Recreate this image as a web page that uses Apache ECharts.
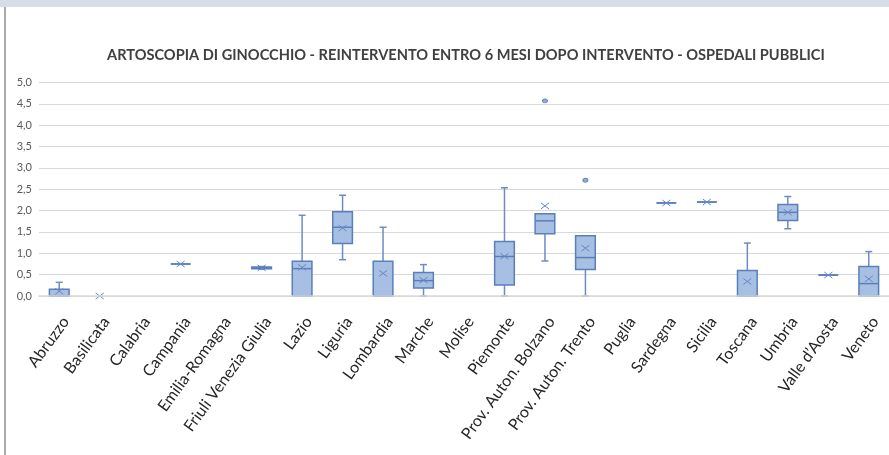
<!DOCTYPE html>
<html>
<head>
<meta charset="utf-8">
<script src="https://cdn.jsdelivr.net/npm/echarts@6/dist/echarts.min.js"></script>
<style>
  html, body { margin: 0; padding: 0; background: #ffffff; overflow: hidden; }
  #chart { width: 889px; height: 455px; }
</style>
</head>
<body>
<div id="chart"></div>
<script>
// Regions on the category axis
const categories = [
  'Abruzzo', 'Basilicata', 'Calabria', 'Campania', 'Emilia-Romagna',
  'Friuli Venezia Giulia', 'Lazio', 'Liguria', 'Lombardia', 'Marche',
  'Molise', 'Piemonte', 'Prov. Auton. Bolzano', 'Prov. Auton. Trento',
  'Puglia', 'Sardegna', 'Sicilia', 'Toscana', 'Umbria', 'Valle d\u2019Aosta', 'Veneto'
];

// Box-plot statistics per region (null = no data)
const whiskerLow  = [0,    null, null, 0.75, null, 0.63, 0,    0.85,  0,    0,     null, 0,     0.82,  0,    null, 2.18, 2.20, 0,    1.575, 0.49, 0];
const quartile1   = [0,    null, null, 0.75, null, 0.64, 0,    1.23,  0,    0.19,  null, 0.26,  1.455, 0.62, null, 2.18, 2.20, 0,    1.77,  0.49, 0];
const medians     = [0,    null, null, 0.75, null, 0.66, 0.64, 1.61,  0,    0.36,  null, 0.925, 1.76,  0.90, null, 2.18, 2.20, 0,    1.96,  0.49, 0.29];
const quartile3   = [0.16, null, null, 0.75, null, 0.68, 0.815,1.975, 0.815,0.55,  null, 1.275, 1.925, 1.41, null, 2.18, 2.20, 0.60, 2.14,  0.49, 0.69];
const whiskerHigh = [0.32, null, null, 0.75, null, 0.69, 1.89, 2.36,  1.61, 0.735, null, 2.535, 1.925, 1.41, null, 2.18, 2.20, 1.24, 2.33,  0.49, 1.04];
const means       = [0.11, 0,    null, 0.75, null, 0.66, 0.67, 1.59,  0.53, 0.37,  null, 0.93,  2.11,  1.12, null, 2.18, 2.20, 0.34, 1.96,  0.49, 0.40];

// Outlying values
const outlierRegions = ['Prov. Auton. Bolzano', 'Prov. Auton. Trento'];
const outlierValues  = [4.57, 2.71];

// Value axis
const yMin = 0, yMax = 5, yStep = 0.5;

const titleText = 'ARTOSCOPIA DI GINOCCHIO - REINTERVENTO ENTRO 6 MESI DOPO INTERVENTO - OSPEDALI PUBBLICI';

const BOX_FILL = '#a7bfe2';
const BOX_LINE = '#5a7fbb';
const WHISKER = '#6b8dc6';

const boxRows = [];
categories.forEach((c, i) => {
  if (quartile1[i] == null) return;
  boxRows.push([i, whiskerLow[i], quartile1[i], medians[i], quartile3[i], whiskerHigh[i]]);
});
const meanRows = [];
categories.forEach((c, i) => {
  if (means[i] == null) return;
  meanRows.push([i, means[i]]);
});
const outlierRows = outlierRegions.map((r, k) => [categories.indexOf(r), outlierValues[k]]);

function renderBox(params, api) {
  const i = api.value(0);
  const band = api.size([1, 0])[0];
  const half = band * 0.243;
  const cap = 3.5;
  const pMin = api.coord([i, api.value(1)]);
  const pQ1 = api.coord([i, api.value(2)]);
  const pMed = api.coord([i, api.value(3)]);
  const pQ3 = api.coord([i, api.value(4)]);
  const pMax = api.coord([i, api.value(5)]);
  const x = pQ1[0];
  const children = [];
  const wStyle = { stroke: WHISKER, lineWidth: 1.5 };
  if (api.value(5) > api.value(4)) {
    children.push({ type: 'line', shape: { x1: x, y1: pQ3[1], x2: x, y2: pMax[1] }, style: wStyle });
    children.push({ type: 'line', shape: { x1: x - cap, y1: pMax[1], x2: x + cap, y2: pMax[1] }, style: wStyle });
  }
  if (api.value(1) < api.value(2)) {
    children.push({ type: 'line', shape: { x1: x, y1: pQ1[1], x2: x, y2: pMin[1] }, style: wStyle });
    children.push({ type: 'line', shape: { x1: x - cap, y1: pMin[1], x2: x + cap, y2: pMin[1] }, style: wStyle });
  }
  children.push({
    type: 'rect',
    shape: { x: x - half, y: pQ3[1], width: half * 2, height: pQ1[1] - pQ3[1] },
    style: { fill: BOX_FILL, stroke: BOX_LINE, lineWidth: 1.5 }
  });
  children.push({
    type: 'line',
    shape: { x1: x - half, y1: pMed[1], x2: x + half, y2: pMed[1] },
    style: { stroke: BOX_LINE, lineWidth: 1.5 }
  });
  return { type: 'group', children: children };
}

function renderMean(params, api) {
  const p = api.coord([api.value(0), api.value(1)]);
  const w = 4, h = 3;
  const st = { stroke: '#6688c2', lineWidth: 1 };
  return {
    type: 'group',
    children: [
      { type: 'line', shape: { x1: p[0] - w, y1: p[1] - h, x2: p[0] + w, y2: p[1] + h }, style: st },
      { type: 'line', shape: { x1: p[0] - w, y1: p[1] + h, x2: p[0] + w, y2: p[1] - h }, style: st }
    ]
  };
}

const chart = echarts.init(document.getElementById('chart'), null, { renderer: 'canvas' });

chart.setOption({
  backgroundColor: '#ffffff',
  animation: false,
  graphic: [
    { type: 'rect', shape: { x: 0, y: 0, width: 889, height: 7 }, style: { fill: '#d7dde6' }, silent: true },
    { type: 'line', shape: { x1: 5, y1: 7, x2: 5, y2: 455 }, style: { stroke: '#8c8c8c', lineWidth: 1.5 }, silent: true },
    {
      type: 'text', left: 107, top: 48,
      style: { text: titleText, fill: '#404040', font: 'bold 14.6px Lato' }
    }
  ],
  grid: { left: 39, right: -3, top: 82.5, bottom: 159, containLabel: false },
  xAxis: {
    type: 'category',
    data: categories,
    boundaryGap: true,
    z: 5,
    axisTick: { show: false },
    axisLine: { show: true, lineStyle: { color: '#d9d9d9', width: 1.5 } },
    axisLabel: {
      interval: 0, rotate: 54, margin: 18, verticalAlign: 'top',
      fontFamily: 'Lato', fontSize: 16, color: '#262626'
    },
    splitLine: { show: false }
  },
  yAxis: {
    type: 'value',
    min: yMin, max: yMax, interval: yStep,
    axisLine: { show: false },
    axisTick: { show: false },
    axisLabel: {
      margin: 7, fontFamily: 'Lato', fontSize: 11, color: '#595959',
      formatter: v => v.toFixed(1).replace('.', ',')
    },
    splitLine: { lineStyle: { color: '#d9d9d9', width: 1 } }
  },
  series: [
    { type: 'custom', renderItem: renderBox, data: boxRows, encode: { x: 0, y: [1, 2, 3, 4, 5] }, z: 2 },
    { type: 'custom', renderItem: renderMean, data: meanRows, encode: { x: 0, y: 1 }, z: 3 },
    {
      type: 'scatter', data: outlierRows, symbol: 'circle', symbolSize: [5, 4],
      itemStyle: { color: '#7898d0', borderColor: '#4f72b0', borderWidth: 1 }, z: 3
    }
  ]
});
</script>
</body>
</html>
